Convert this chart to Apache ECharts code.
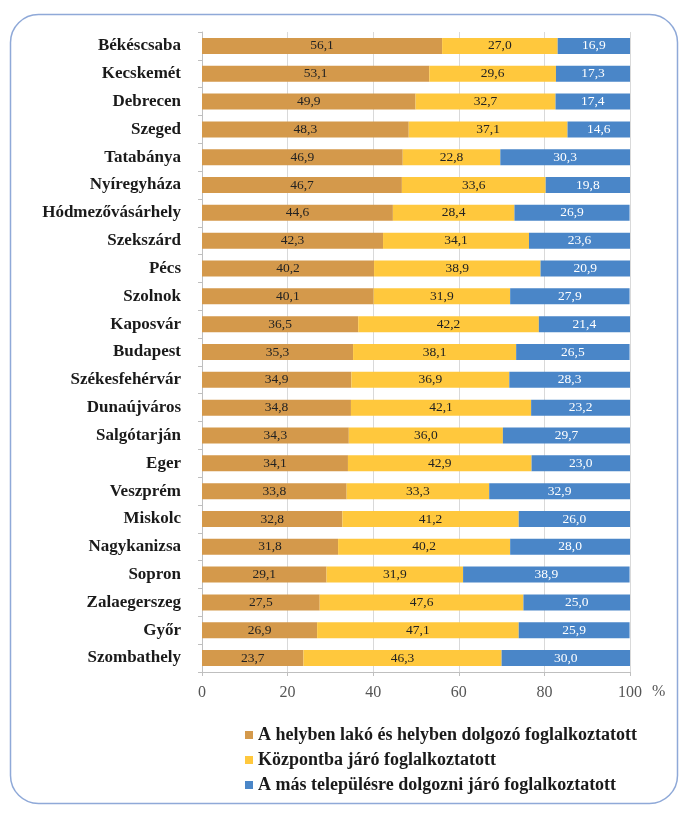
<!DOCTYPE html>
<html>
<head>
<meta charset="utf-8">
<script src="https://cdn.jsdelivr.net/npm/echarts@6/dist/echarts.min.js"></script>
<style>
html,body{margin:0;padding:0;background:#fff;}
#c{width:683px;height:813px;}
</style>
</head>
<body>
<div id="c"></div>
<script>
const categories = ["Békéscsaba","Kecskemét","Debrecen","Szeged","Tatabánya","Nyíregyháza","Hódmezővásárhely","Szekszárd","Pécs","Szolnok","Kaposvár","Budapest","Székesfehérvár","Dunaújváros","Salgótarján","Eger","Veszprém","Miskolc","Nagykanizsa","Sopron","Zalaegerszeg","Győr","Szombathely"];
const seriesNames = ["A helyben lakó és helyben dolgozó foglalkoztatott","Központba járó foglalkoztatott","A más településre dolgozni járó foglalkoztatott"];
const localWorkers = [56.1,53.1,49.9,48.3,46.9,46.7,44.6,42.3,40.2,40.1,36.5,35.3,34.9,34.8,34.3,34.1,33.8,32.8,31.8,29.1,27.5,26.9,23.7];
const toCentre = [27.0,29.6,32.7,37.1,22.8,33.6,28.4,34.1,38.9,31.9,42.2,38.1,36.9,42.1,36.0,42.9,33.3,41.2,40.2,31.9,47.6,47.1,46.3];
const toOther = [16.9,17.3,17.4,14.6,30.3,19.8,26.9,23.6,20.9,27.9,21.4,26.5,28.3,23.2,29.7,23.0,32.9,26.0,28.0,38.9,25.0,25.9,30.0];
const xTicks = [0,20,40,60,80,100];

const colors = ['#D4994B','#FFC83D','#4A86C8'];
const labelColors = ['#222222','#222222','#ffffff'];
const serif = '"Liberation Serif","Times New Roman",serif';
const fmt = p => p.value.toFixed(1).replace('.', ',');

const chart = echarts.init(document.getElementById('c'), null, {renderer:'canvas'});
const dataSets = [localWorkers, toCentre, toOther];
chart.setOption({
  animation:false,
  backgroundColor:'#ffffff',
  graphic:[
    {type:'rect', left:8, top:12, shape:{width:667, height:789, r:28}, style:{fill:'none', stroke:'#8FA9D8', lineWidth:1.5}, z:-1},
    {type:'text', left:652, top:684, style:{text:'%', font:'16px ' + serif, fill:'#555'}}
  ],
  grid:{left:202, right:53, top:32, bottom:141, containLabel:false},
  legend:{
    orient:'vertical', left:240, top:721,
    itemWidth:8, itemHeight:8, itemGap:7, itemTextGap:9,
    icon:'rect',
    textStyle:{fontFamily:serif, fontSize:18, fontWeight:'bold', color:'#1a1a1a', lineHeight:18},
    data:seriesNames
  },
  xAxis:{
    type:'value', min:xTicks[0], max:xTicks[xTicks.length-1], interval:20,
    axisLine:{show:true, lineStyle:{color:'#BFBFBF'}},
    axisTick:{show:true, length:4, lineStyle:{color:'#BFBFBF'}},
    splitLine:{show:true, lineStyle:{color:'#D9D9D9'}},
    axisLabel:{fontFamily:serif, fontSize:16, color:'#555', margin:13}
  },
  yAxis:{
    type:'category', data:categories, inverse:true,
    axisLine:{show:true, lineStyle:{color:'#BFBFBF'}},
    axisTick:{show:true, length:4, inside:false, lineStyle:{color:'#BFBFBF'}},
    axisLabel:{fontFamily:serif, fontSize:17, fontWeight:'bold', color:'#1a1a1a', margin:21}
  },
  series: dataSets.map((d,i)=>({
    name:seriesNames[i], type:'bar', stack:'total', data:d, barWidth:16,
    itemStyle:{color:colors[i]},
    label:{show:true, position:'inside', formatter:fmt, fontFamily:serif, fontSize:13.5, color:labelColors[i]}
  }))
});
</script>
</body>
</html>
